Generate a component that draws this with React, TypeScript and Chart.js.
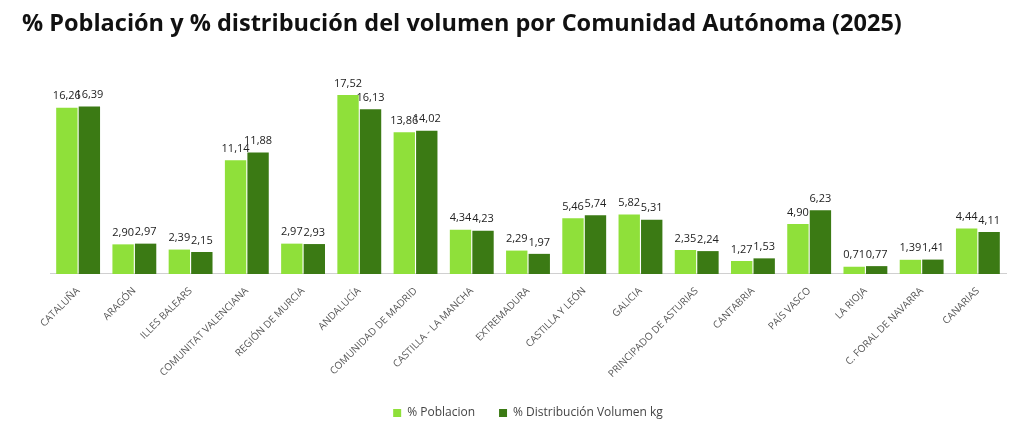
import React, { useEffect, useRef } from "react";
import { Chart, registerables } from "chart.js";
Chart.register(...registerables);

const categories = ["CATALUÑA","ARAGÓN","ILLES BALEARS","COMUNITAT VALENCIANA","REGIÓN DE MURCIA","ANDALUCÍA","COMUNIDAD DE MADRID","CASTILLA - LA MANCHA","EXTREMADURA","CASTILLA Y LEÓN","GALICIA","PRINCIPADO DE ASTURIAS","CANTABRIA","PAÍS VASCO","LA RIOJA","C. FORAL DE NAVARRA","CANARIAS"];
const poblacion = [16.26,2.90,2.39,11.14,2.97,17.52,13.86,4.34,2.29,5.46,5.82,2.35,1.27,4.90,0.71,1.39,4.44];
const volumen = [16.39,2.97,2.15,11.88,2.93,16.13,14.02,4.23,1.97,5.74,5.31,2.24,1.53,6.23,0.77,1.41,4.11];

const labelPlugin = {
  id: "vals",
  afterDatasetsDraw(chart: any) {
    const ctx = chart.ctx;
    ctx.save();
    ctx.font = "11px 'Open Sans', sans-serif";
    ctx.fillStyle = "#222";
    ctx.textAlign = "center";
    ctx.textBaseline = "bottom";
    chart.data.datasets.forEach((ds: any, di: number) => {
      chart.getDatasetMeta(di).data.forEach((bar: any, i: number) => {
        const v = ds.data[i] as number;
        ctx.fillText(v.toFixed(2).replace(".", ","), bar.x, bar.y - 6);
      });
    });
    ctx.restore();
  },
};

export default function App() {
  const ref = useRef<HTMLCanvasElement>(null);
  useEffect(() => {
    const chart = new Chart(ref.current!, {
      type: "bar",
      data: {
        labels: categories,
        datasets: [
          { label: "% Poblacion", data: poblacion, backgroundColor: "#8FE03A", categoryPercentage: 0.8, barPercentage: 0.95 },
          { label: "% Distribución Volumen kg", data: volumen, backgroundColor: "#3B7A14", categoryPercentage: 0.8, barPercentage: 0.95 },
        ],
      },
      options: {
        animation: false,
        responsive: false,
        layout: { padding: { left: 50, right: 18, top: 88, bottom: 0 } },
        plugins: {
          legend: {
            position: "bottom",
            labels: { usePointStyle: true, pointStyle: "rect", boxWidth: 8, boxHeight: 8, color: "#444", font: { family: "'Open Sans', sans-serif", size: 12 }, padding: 24 },
          },
          tooltip: { enabled: false },
        },
        scales: {
          x: {
            grid: { display: false },
            border: { color: "#d0d0d0" },
            ticks: { color: "#555", font: { family: "'Open Sans', sans-serif", size: 10 }, maxRotation: 45, minRotation: 45, autoSkip: false },
          },
          y: { display: false, min: 0, max: 18.2 },
        },
      },
      plugins: [labelPlugin],
    });
    return () => chart.destroy();
  }, []);
  return (
    <div style={{ position: "absolute", left: 0, top: 0, width: 1024, height: 429, background: "#fff" }}>
      <div style={{ position: "absolute", left: 22, top: 6, fontFamily: "'Open Sans', sans-serif", fontWeight: "bold", fontSize: 23.5, color: "#111", whiteSpace: "nowrap" }}>
        % Población y % distribución del volumen por Comunidad Autónoma (2025)
      </div>
      <canvas ref={ref} width={1024} height={429} style={{ display: "block" }} />
    </div>
  );
}
